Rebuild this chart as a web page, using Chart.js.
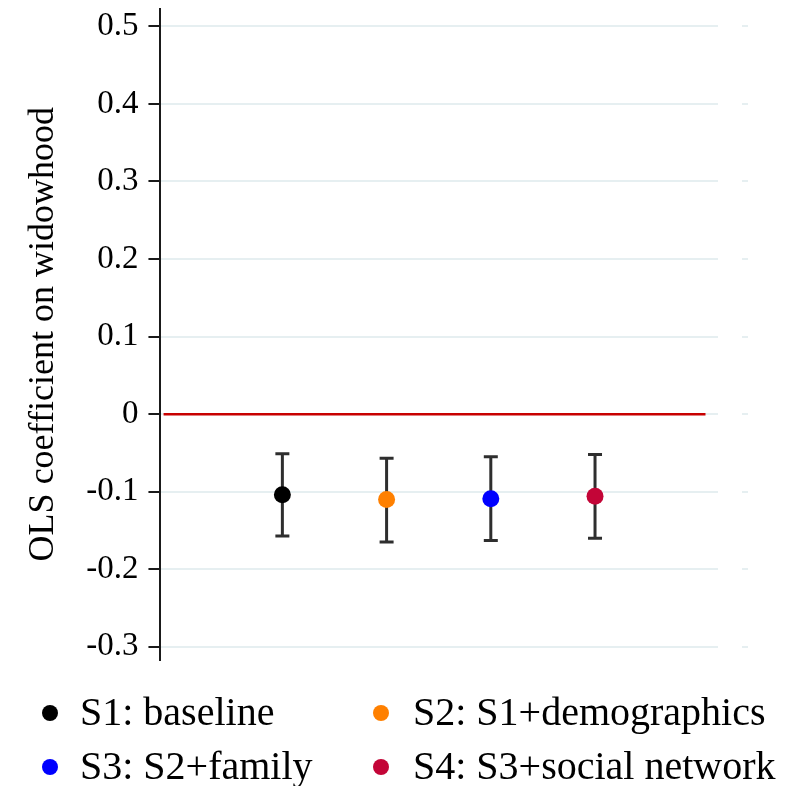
<!DOCTYPE html>
<html>
<head>
<meta charset="utf-8">
<script src="https://cdn.jsdelivr.net/npm/chart.js@4"></script>
<style>
  html, body { margin: 0; padding: 0; background: #ffffff; }
  #wrap { width: 794px; height: 786px; position: relative; }
</style>
</head>
<body>
<div id="wrap"><canvas id="CoefChart"></canvas></div>
<script>
// specifications and their estimates
var specs = ['S1: baseline', 'S2: S1+demographics', 'S3: S2+family', 'S4: S3+social network'];
var specPos = [1, 2, 3, 4];
var coefs = [-0.104, -0.110, -0.109, -0.106];
var ciLow = [-0.157, -0.165, -0.163, -0.160];
var ciHigh = [-0.051, -0.057, -0.055, -0.052];
var specColors = ['#000000', '#ff8000', '#0000ff', '#c30537'];
var yTicks = [-0.3, -0.2, -0.1, 0, 0.1, 0.2, 0.3, 0.4, 0.5];
var refLineX = [-0.14, 5.06];
var refLineY = [0, 0];

var serif = '"Liberation Serif", "Times New Roman", serif';
var gridColor = '#e6eff1';

// draws the confidence intervals behind the markers
var errorBars = {
    id: 'errorBars',
    beforeDatasetsDraw: function (chart) {
        var ctx = chart.ctx, x = chart.scales.x, y = chart.scales.y;
        ctx.save();
        ctx.strokeStyle = '#2e2e2e';
        ctx.lineWidth = 3;
        for (var i = 0; i < specPos.length; i++) {
            var px = x.getPixelForValue(specPos[i]);
            var lo = y.getPixelForValue(ciLow[i]);
            var hi = y.getPixelForValue(ciHigh[i]);
            ctx.beginPath();
            ctx.moveTo(px, lo); ctx.lineTo(px, hi);
            ctx.moveTo(px - 7, lo); ctx.lineTo(px + 7, lo);
            ctx.moveTo(px - 7, hi); ctx.lineTo(px + 7, hi);
            ctx.stroke();
        }
        ctx.restore();
    }
};

// two-column legend under the plot
var legendGrid = {
    id: 'legendGrid',
    afterDraw: function (chart) {
        var ctx = chart.ctx;
        var markX = [50, 381], textX = [80, 413], rowY = [713, 767];
        ctx.save();
        ctx.font = '40px ' + serif;
        ctx.textBaseline = 'middle';
        specs.forEach(function (label, i) {
            var col = i % 2, cy = rowY[Math.floor(i / 2)];
            ctx.fillStyle = specColors[i];
            ctx.beginPath();
            ctx.arc(markX[col], cy, 8, 0, Math.PI * 2);
            ctx.fill();
            ctx.fillStyle = '#000000';
            ctx.fillText(label, textX[col], cy + 1);
        });
        ctx.restore();
    }
};

var datasets = specs.map(function (label, i) {
    return {
        label: label,
        data: [{ x: specPos[i], y: coefs[i] }],
        backgroundColor: specColors[i],
        borderColor: specColors[i],
        pointRadius: 8.5,
        pointBorderWidth: 0,
        order: 1
    };
});
datasets.push({
    type: 'line',
    label: 'zero',
    data: refLineX.map(function (v, i) { return { x: v, y: refLineY[i] }; }),
    borderColor: '#c80000',
    borderWidth: 2.5,
    pointRadius: 0,
    order: 10
});

function setTicks(scale) {
    scale.ticks = yTicks.map(function (v) { return { value: v }; });
}
// labels sit inside the range, so no extra room above / below
function noEdgePad(scale) {
    scale.paddingTop = 0;
    scale.paddingBottom = 0;
}

var ctx = document.getElementById('CoefChart').getContext('2d');
var coefChart = new Chart(ctx, {
    type: 'scatter',
    data: { datasets: datasets },
    options: {
        responsive: true,
        maintainAspectRatio: false,
        animation: false,
        layout: { padding: { top: 7, bottom: 126, left: 18, right: 46 } },
        plugins: {
            legend: { display: false },
            tooltip: { enabled: false }
        },
        scales: {
            x: { type: 'linear', min: -0.17, max: 5.18, display: false },
            y: {
                min: -0.317,
                max: 0.523,
                afterBuildTicks: setTicks,
                afterFit: noEdgePad,
                border: { display: true, color: '#1a1a1a', width: 2 },
                grid: { color: gridColor, lineWidth: 2, tickColor: '#1a1a1a', tickLength: 12, tickWidth: 2 },
                ticks: {
                    color: '#000000',
                    padding: 10,
                    font: { family: serif, size: 33 },
                    callback: function (v) { return v === 0 ? '0' : v.toFixed(1); }
                },
                title: {
                    display: true,
                    text: 'OLS coefficient on widowhood',
                    color: '#000000',
                    font: { family: serif, size: 36 },
                    padding: { top: 4, bottom: 11 }
                }
            },
            y2: {
                position: 'right',
                min: -0.317,
                max: 0.523,
                afterBuildTicks: setTicks,
                afterFit: noEdgePad,
                border: { display: false },
                grid: {
                    drawOnChartArea: false,
                    color: gridColor,
                    lineWidth: 2,
                    tickLength: 30,
                    tickBorderDash: [6, 24],
                    tickBorderDashOffset: 6
                },
                ticks: { display: false }
            }
        }
    },
    plugins: [errorBars, legendGrid]
});
</script>
</body>
</html>
